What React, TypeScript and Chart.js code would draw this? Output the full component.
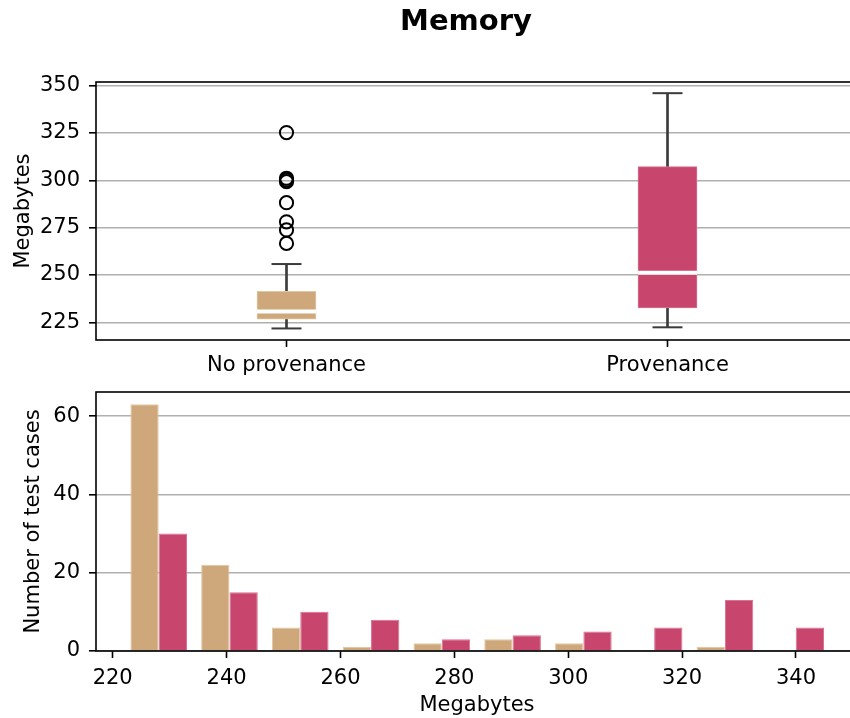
import React, { useEffect, useRef } from 'react';
import { Chart, registerables } from 'chart.js';

Chart.register(...registerables);

// ---- Box plot data (Megabytes) ----
const boxCategories = ['No provenance', 'Provenance'];
const boxPositions = [1, 2];
const boxQ1 = [226.7, 232.7];
const boxQ3 = [241.4, 307.2];
const boxMedian = [230.8, 251.2];
const whiskerLow = [221.8, 222.4];
const whiskerHigh = [255.8, 346.0];
const outliersNoProvenance = [325.2, 301.1, 300.2, 299.3, 288.2, 278.1, 273.8, 266.7];
const outliersProvenance: number[] = [];
const boxYTicks = [225, 250, 275, 300, 325, 350];

// ---- Histogram data ----
const binCenters = [228.08, 240.51, 252.94, 265.37, 277.8, 290.23, 302.66, 315.09, 327.52, 339.95];
const countsNoProvenance = [63, 22, 6, 1, 2, 3, 2, 0, 1, 0];
const countsProvenance = [30, 15, 10, 8, 3, 4, 5, 6, 13, 6];
const histXTicks = [220, 240, 260, 280, 300, 320, 340];
const histYTicks = [0, 20, 40, 60];

const TAN = '#CEA87A';
const TAN_EDGE = '#E2C7A4';
const RED = '#C8466E';
const RED_EDGE = '#D9728F';
const WHISKER = '#3b3b3b';
const FS = 21;

const zeroPad = (s: any) => {
  s.paddingLeft = 0;
  s.paddingRight = 0;
  s.paddingTop = 0;
  s.paddingBottom = 0;
};

export default function App() {
  const topRef = useRef<HTMLCanvasElement>(null);
  const botRef = useRef<HTMLCanvasElement>(null);

  useEffect(() => {
    Chart.defaults.font.family = "'DejaVu Sans', sans-serif";
    Chart.defaults.color = '#000';

    const framePlugin = {
      id: 'frame',
      afterDatasetsDraw(chart: any) {
        const { ctx, chartArea: a } = chart;
        ctx.save();
        ctx.strokeStyle = '#000';
        ctx.lineWidth = 1.6;
        ctx.strokeRect(a.left, a.top, a.right - a.left, a.bottom - a.top);
        ctx.restore();
      },
    };
    const titlePlugin = {
      id: 'suptitle',
      afterDraw(chart: any) {
        const ctx = chart.ctx;
        ctx.save();
        ctx.font = "bold 29px 'DejaVu Sans', sans-serif";
        ctx.fillStyle = '#000';
        ctx.textAlign = 'center';
        ctx.textBaseline = 'alphabetic';
        ctx.fillText('Memory', 466, 30);
        ctx.restore();
      },
    };

    const yGrid = {
      color: '#b0b0b0',
      lineWidth: 1.6,
      drawTicks: true,
      tickColor: '#000',
      tickLength: 7,
      tickWidth: 1.6,
    };
    const xGrid = {
      display: true,
      drawOnChartArea: false,
      drawTicks: true,
      offset: false,
      tickColor: '#000',
      tickLength: 7,
      tickWidth: 1.6,
    };

    const outlierData = [
      ...outliersNoProvenance.map((y) => ({ x: boxPositions[0], y })),
      ...outliersProvenance.map((y) => ({ x: boxPositions[1], y })),
    ];
    const capData = [
      ...boxPositions.map((x, i) => ({ x, y: whiskerLow[i] })),
      ...boxPositions.map((x, i) => ({ x, y: whiskerHigh[i] })),
    ];

    const top = new Chart(topRef.current as HTMLCanvasElement, {
      type: 'bar',
      data: {
        datasets: [
          {
            type: 'line',
            label: 'outliers',
            data: outlierData as any,
            showLine: false,
            pointStyle: 'circle',
            pointRadius: 6.6,
            pointBorderWidth: 2,
            pointBorderColor: '#000',
            pointBackgroundColor: 'rgba(0,0,0,0)',
            order: 1,
          } as any,
          {
            type: 'line',
            label: 'median',
            data: boxPositions.map((x, i) => ({ x, y: boxMedian[i] })) as any,
            showLine: false,
            pointStyle: 'line',
            pointRadius: 29.5,
            pointBorderWidth: 4,
            pointBorderColor: '#fff',
            order: 2,
          } as any,
          {
            type: 'line',
            label: 'caps',
            data: capData as any,
            showLine: false,
            pointStyle: 'line',
            pointRadius: 15,
            pointBorderWidth: 2,
            pointBorderColor: WHISKER,
            order: 3,
          } as any,
          {
            type: 'bar',
            label: 'box',
            data: boxPositions.map((x, i) => ({ x, y: [boxQ1[i], boxQ3[i]] })) as any,
            backgroundColor: [TAN, RED],
            borderColor: [TAN_EDGE, RED_EDGE],
            borderWidth: 1,
            borderSkipped: false,
            barThickness: 59,
            grouped: false,
            order: 4,
          } as any,
          {
            type: 'bar',
            label: 'whiskerLow',
            data: boxPositions.map((x, i) => ({ x, y: [whiskerLow[i], boxQ1[i]] })) as any,
            backgroundColor: WHISKER,
            borderWidth: 0,
            barThickness: 2,
            grouped: false,
            order: 5,
          } as any,
          {
            type: 'bar',
            label: 'whiskerHigh',
            data: boxPositions.map((x, i) => ({ x, y: [boxQ3[i], whiskerHigh[i]] })) as any,
            backgroundColor: WHISKER,
            borderWidth: 0,
            barThickness: 2,
            grouped: false,
            order: 5,
          } as any,
        ],
      },
      options: {
        animation: false,
        responsive: false,
        events: [],
        layout: { autoPadding: false, padding: { top: 82, right: 12, bottom: 0, left: 0 } },
        plugins: { legend: { display: false }, tooltip: { enabled: false } },
        scales: {
          x: {
            type: 'linear',
            offset: false,
            min: 0.5,
            max: 2.5,
            grid: xGrid as any,
            border: { display: false },
            ticks: {
              font: { size: FS },
              color: '#000',
              padding: 6,
              maxRotation: 0,
              autoSkip: false,
              callback: (v: any) => boxCategories[boxPositions.indexOf(Number(v))] ?? '',
            },
            afterBuildTicks: (s: any) => {
              s.ticks = boxPositions.map((v) => ({ value: v }));
            },
            afterFit: (s: any) => {
              s.height = 40;
              zeroPad(s);
            },
          },
          y: {
            type: 'linear',
            min: 215.7,
            max: 351.9,
            grid: yGrid as any,
            border: { display: false },
            ticks: { font: { size: FS }, color: '#000', padding: 9 },
            afterBuildTicks: (s: any) => {
              s.ticks = boxYTicks.map((v) => ({ value: v }));
            },
            afterFit: (s: any) => {
              s.width = 96;
              zeroPad(s);
            },
            title: { display: true, text: 'Megabytes', font: { size: FS }, color: '#000', padding: { top: 10.5, bottom: 0 } },
          },
        },
      } as any,
      plugins: [framePlugin, titlePlugin],
    });

    const bottom = new Chart(botRef.current as HTMLCanvasElement, {
      type: 'bar',
      data: {
        datasets: [
          {
            label: 'No provenance',
            data: binCenters.map((x, i) => ({ x, y: countsNoProvenance[i] })) as any,
            backgroundColor: TAN,
            borderColor: TAN_EDGE,
            borderWidth: 1,
            borderSkipped: 'bottom',
            categoryPercentage: 0.8,
            barPercentage: 1.0,
          },
          {
            label: 'Provenance',
            data: binCenters.map((x, i) => ({ x, y: countsProvenance[i] })) as any,
            backgroundColor: RED,
            borderColor: RED_EDGE,
            borderWidth: 1,
            borderSkipped: 'bottom',
            categoryPercentage: 0.8,
            barPercentage: 1.0,
          },
        ],
      },
      options: {
        animation: false,
        responsive: false,
        events: [],
        layout: { autoPadding: false, padding: { top: 12, right: 12, bottom: 0, left: 0 } },
        plugins: { legend: { display: false }, tooltip: { enabled: false } },
        scales: {
          x: {
            type: 'linear',
            offset: false,
            min: 217.07,
            max: 350.89,
            grid: xGrid as any,
            border: { display: false },
            ticks: { font: { size: FS }, color: '#000', padding: 8, maxRotation: 0 },
            afterBuildTicks: (s: any) => {
              s.ticks = histXTicks.map((v) => ({ value: v }));
            },
            afterFit: (s: any) => {
              s.height = 67;
              zeroPad(s);
            },
            title: { display: true, text: 'Megabytes', font: { size: FS }, color: '#000', padding: { top: 0, bottom: 0 } },
          },
          y: {
            type: 'linear',
            min: 0,
            max: 66.15,
            grid: yGrid as any,
            border: { display: false },
            ticks: { font: { size: FS }, color: '#000', padding: 9 },
            afterBuildTicks: (s: any) => {
              s.ticks = histYTicks.map((v) => ({ value: v }));
            },
            afterFit: (s: any) => {
              s.width = 96;
              zeroPad(s);
            },
            title: { display: true, text: 'Number of test cases', font: { size: FS }, color: '#000', padding: { top: 21, bottom: 0 } },
          },
        },
      } as any,
      plugins: [framePlugin],
    });

    return () => {
      top.destroy();
      bottom.destroy();
    };
  }, []);

  return (
    <div style={{ position: 'fixed', left: 0, top: 0, width: 850, height: 718, overflow: 'hidden', background: '#fff' }}>
      <canvas ref={topRef} width={870} height={380} style={{ position: 'absolute', left: 0, top: 0 }} />
      <canvas ref={botRef} width={870} height={338} style={{ position: 'absolute', left: 0, top: 380 }} />
    </div>
  );
}
